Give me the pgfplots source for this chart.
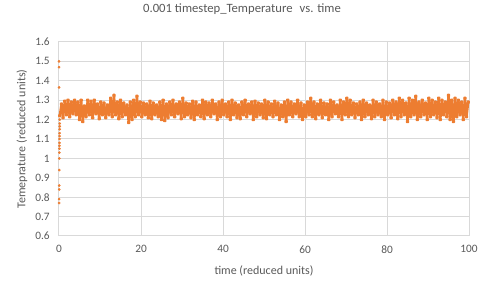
\documentclass[border=0pt]{standalone}
\usepackage{pgfplots}
\pgfplotsset{compat=1.18}
\usepackage{fontspec}
\setmainfont{Carlito}
\definecolor{txt}{HTML}{595959}
\definecolor{grd}{HTML}{D9D9D9}
\definecolor{org}{HTML}{ED7D31}
\begin{document}
\begin{tikzpicture}
\path[use as bounding box] (-44.25pt,-39pt) rectangle (318.75pt,177pt);
\begin{axis}[
  at={(0,0)}, anchor=south west,
  scale only axis, width=307.5pt, height=145.5pt,
  xmin=0, xmax=100, ymin=0.6, ymax=1.6,
  xtick={0,20,...,100}, ytick={0.6,0.7,...,1.61},
  grid=major, major grid style={grd, line width=0.75pt},
  axis line style={grd, line width=0.75pt},
  major tick length=0pt,
  tick label style={font=\fontsize{8.5}{10}\selectfont, text=txt},
  xticklabel style={yshift=-3.5pt},
  yticklabel style={xshift=-3.5pt, /pgf/number format/fixed, /pgf/number format/precision=1},
  /pgf/number format/assume math mode=true,
  title={0.001 timestep\_Temperature\,\, vs. time},
  title style={at={(0,1)}, anchor=center, xshift=137.25pt, yshift=18.75pt, font=\fontsize{9.5}{11}\selectfont, text=txt},
  xlabel={time (reduced units)},
  xlabel style={at={(0.5,0)}, anchor=center, yshift=-26.25pt, font=\fontsize{9}{11}\selectfont, text=txt},
  ylabel={Temeprature (reduced units)},
  ylabel style={at={(0,0.5)}, anchor=center, yshift=27.75pt, font=\fontsize{9}{11}\selectfont, text=txt},
  clip=false,
]
% transient
\addplot[only marks, mark=*, mark size=0.8pt, color=org] coordinates {
(0.00,1.50) (0.01,1.47) (0.02,1.366) (0.03,0.77) (0.04,0.79) (0.05,0.84) (0.06,0.86)
(0.07,0.94) (0.08,1.00) (0.09,1.03) (0.10,1.05) (0.11,1.065) (0.12,1.08) (0.13,1.10)
(0.14,1.115) (0.15,1.13) (0.16,1.15) (0.17,1.165) (0.18,1.18) (0.19,1.20)
};
% equilibrated band
\addplot[color=org, line width=1.8pt, line join=round, mark=*, mark size=0.6pt] table {
x y
0.2 1.22
0.6 1.28
1.0 1.21
1.4 1.295
1.8 1.225
2.2 1.30
2.6 1.215
3.0 1.29
3.4 1.23
3.8 1.30
4.2 1.225
4.6 1.29
5.0 1.20
5.4 1.30
5.8 1.19
6.2 1.27
6.6 1.215
7.0 1.30
7.4 1.225
7.8 1.295
8.2 1.21
8.6 1.30
9.0 1.23
9.4 1.28
9.8 1.205
10.2 1.29
10.6 1.225
11.0 1.285
11.4 1.21
11.8 1.275
12.2 1.225
12.6 1.31
13.0 1.215
13.4 1.325
13.8 1.225
14.2 1.29
14.6 1.205
15.0 1.30
15.4 1.215
15.8 1.285
16.2 1.225
16.6 1.275
17.0 1.185
17.4 1.29
17.8 1.20
18.2 1.30
18.6 1.215
19.0 1.32
19.4 1.225
19.8 1.29
20.2 1.215
20.6 1.285
21.0 1.225
21.4 1.28
21.8 1.21
22.2 1.295
22.6 1.205
23.0 1.285
23.4 1.225
23.8 1.275
24.2 1.215
24.6 1.29
25.0 1.20
25.4 1.30
25.8 1.195
26.2 1.28
26.6 1.21
27.0 1.29
27.4 1.225
27.8 1.30
28.2 1.215
28.6 1.28
29.0 1.23
29.4 1.29
29.8 1.205
30.2 1.31
30.6 1.215
31.0 1.285
31.4 1.225
31.8 1.28
32.2 1.21
32.6 1.295
33.0 1.20
33.4 1.29
33.8 1.225
34.2 1.275
34.6 1.215
35.0 1.30
35.4 1.205
35.8 1.29
36.2 1.225
36.6 1.285
37.0 1.215
37.4 1.30
37.8 1.23
38.2 1.28
38.6 1.20
39.0 1.29
39.4 1.215
39.8 1.30
40.2 1.225
40.6 1.28
41.0 1.215
41.4 1.29
41.8 1.20
42.2 1.30
42.6 1.225
43.0 1.285
43.4 1.21
43.8 1.275
44.2 1.205
44.6 1.29
45.0 1.225
45.4 1.30
45.8 1.215
46.2 1.28
46.6 1.23
47.0 1.29
47.4 1.20
47.8 1.295
48.2 1.215
48.6 1.285
49.0 1.225
49.4 1.28
49.8 1.21
50.2 1.30
50.6 1.205
51.0 1.29
51.4 1.225
51.8 1.28
52.2 1.215
52.6 1.295
53.0 1.225
53.4 1.285
53.8 1.20
54.2 1.275
54.6 1.215
55.0 1.29
55.4 1.19
55.8 1.30
56.2 1.225
56.6 1.29
57.0 1.215
57.4 1.28
57.8 1.23
58.2 1.30
58.6 1.215
59.0 1.285
59.4 1.20
59.8 1.275
60.2 1.215
60.6 1.29
61.0 1.225
61.4 1.31
61.8 1.215
62.2 1.29
62.6 1.205
63.0 1.28
63.4 1.225
63.8 1.30
64.2 1.21
64.6 1.285
65.0 1.225
65.4 1.28
65.8 1.20
66.2 1.30
66.6 1.215
67.0 1.29
67.4 1.23
67.8 1.275
68.2 1.215
68.6 1.30
69.0 1.20
69.4 1.29
69.8 1.225
70.2 1.31
70.6 1.215
71.0 1.30
71.4 1.225
71.8 1.285
72.2 1.21
72.6 1.28
73.0 1.225
73.4 1.29
73.8 1.20
74.2 1.30
74.6 1.215
75.0 1.285
75.4 1.225
75.8 1.275
76.2 1.205
76.6 1.30
77.0 1.215
77.4 1.29
77.8 1.225
78.2 1.28
78.6 1.215
79.0 1.30
79.4 1.20
79.8 1.29
80.2 1.225
80.6 1.285
81.0 1.21
81.4 1.30
81.8 1.225
82.2 1.29
82.6 1.205
83.0 1.31
83.4 1.215
83.8 1.30
84.2 1.225
84.6 1.285
85.0 1.19
85.4 1.31
85.8 1.215
86.2 1.30
86.6 1.225
87.0 1.32
87.4 1.20
87.8 1.29
88.2 1.215
88.6 1.30
89.0 1.225
89.4 1.285
89.8 1.20
90.2 1.31
90.6 1.215
91.0 1.30
91.4 1.225
91.8 1.29
92.2 1.21
92.6 1.31
93.0 1.20
93.4 1.30
93.8 1.225
94.2 1.29
94.6 1.215
95.0 1.325
95.4 1.20
95.8 1.30
96.2 1.19
96.6 1.31
97.0 1.215
97.4 1.30
97.8 1.225
98.2 1.29
98.6 1.20
99.0 1.31
99.4 1.215
99.8 1.29
};
\end{axis}
\end{tikzpicture}
\end{document}
